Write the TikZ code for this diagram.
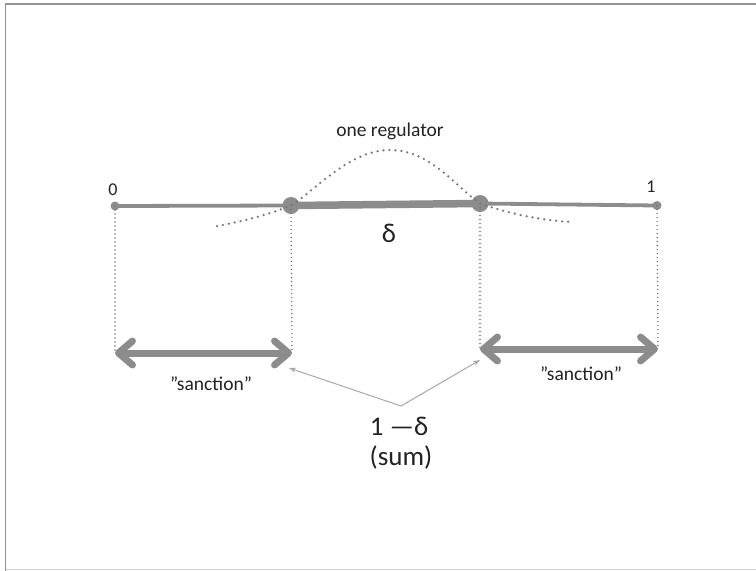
\documentclass[tikz,border=0pt]{standalone}
\usepackage{fontspec}
\setmainfont{Carlito}
\usetikzlibrary{arrows.meta}
\definecolor{linegray}{HTML}{8C8C8C}
\definecolor{dotgray}{HTML}{767676}
\definecolor{pointergray}{HTML}{A8A8A8}
\definecolor{textdark}{HTML}{222222}
\tikzset{
  every node/.style={text=textdark, inner sep=0pt},
  endpt/.style={circle, fill=linegray, minimum size=9pt},
  cutpt/.style={circle, fill=linegray, minimum size=17pt},
  baseline/.style={draw=linegray, line width=3.8pt},
  deltaseg/.style={draw=linegray, line width=7.5pt},
  guide/.style={draw=dotgray, line width=1.6pt, line cap=round, dash pattern=on 0pt off 4pt},
  bell/.style={draw=dotgray, line width=2.5pt, line cap=round, dash pattern=on 0pt off 6pt},
  sanctionarrow/.style={draw=linegray, line width=7pt,
    {Straight Barb[length=14pt, width=24pt, round]}-{Straight Barb[length=14pt, width=24pt, round]}},
  pointer/.style={draw=pointergray, line width=1pt, -{Stealth[length=7pt, width=5pt]}},
  smalllabel/.style={font=\fontsize{18}{20}\selectfont},
  midlabel/.style={font=\fontsize{19.5}{22}\selectfont},
  biglabel/.style={font=\fontsize{27}{30}\selectfont},
}
\begin{document}
\begin{tikzpicture}[x=1pt, y=-1pt]
  \useasboundingbox (0,0) rectangle (756,571);
  % slide frame
  \draw[draw=gray!85, line width=1.5pt] (5.5,571) -- (5.5,4) -- (756,4);
  \draw[draw=gray!35, line width=1.2pt] (5.5,569.5) -- (756,569.5);

  % the unit interval and its cut points
  \node[endpt] (zero) at (115,206) {};
  \node[endpt] (one) at (657,205.5) {};
  \node[cutpt] (cutL) at (291,205.5) {};
  \node[cutpt] (cutR) at (480,203.5) {};
  \draw[baseline] (zero.center) -- (cutL.center);
  \draw[baseline] (cutR.center) -- (one.center);
  \draw[deltaseg] (cutL.center) -- (cutR.center);

  \node[smalllabel] (lab0) at (113,190) {0};
  \node[smalllabel] (lab1) at (651,187) {1};
  \node[biglabel] (delta) at (389,233) {δ};

  % dotted bell of the regulator
  \coordinate (bellA) at (217,226);
  \coordinate (bellTop) at (390,150);
  \coordinate (bellB) at (570,222);
  \draw[bell] (bellA) .. controls (245,221) and (270,214) .. (cutL.center)
    .. controls (318,188) and (350,150) .. (bellTop)
    .. controls (430,150) and (455,186) .. (cutR.center)
    .. controls (510,214) and (540,220) .. (bellB);
  \node[midlabel] (reg) at (390,131) {one regulator};

  % projections down to the sanction arrows
  \coordinate (sL1) at (115,353);
  \coordinate (sL2) at (292,353);
  \coordinate (sR1) at (480,349);
  \coordinate (sR2) at (658,349);
  \draw[guide] (zero.center) -- (sL1);
  \draw[guide] (cutL.center) -- (sL2);
  \draw[guide] (cutR.center) -- (sR1);
  \draw[guide] (one.center) -- (sR2);

  \draw[sanctionarrow] (sL1) -- (sL2);
  \draw[sanctionarrow] (sR1) -- (sR2);
  \node[midlabel] (sancL) at (211,384) {\symbol{34}sanction\symbol{34}};
  \node[midlabel] (sancR) at (581,374) {\symbol{34}sanction\symbol{34}};

  % the remainder 1 - delta
  \node[biglabel] (rest) at (399,426) {1 —δ};
  \node[biglabel] (sum) at (401,457) {(sum)};
  \coordinate (fork) at (401,406);
  \coordinate (tipL) at (289,368);
  \coordinate (tipR) at (480,360);
  \draw[pointer] (fork) -- (tipL);
  \draw[pointer] (fork) -- (tipR);
\end{tikzpicture}
\end{document}
